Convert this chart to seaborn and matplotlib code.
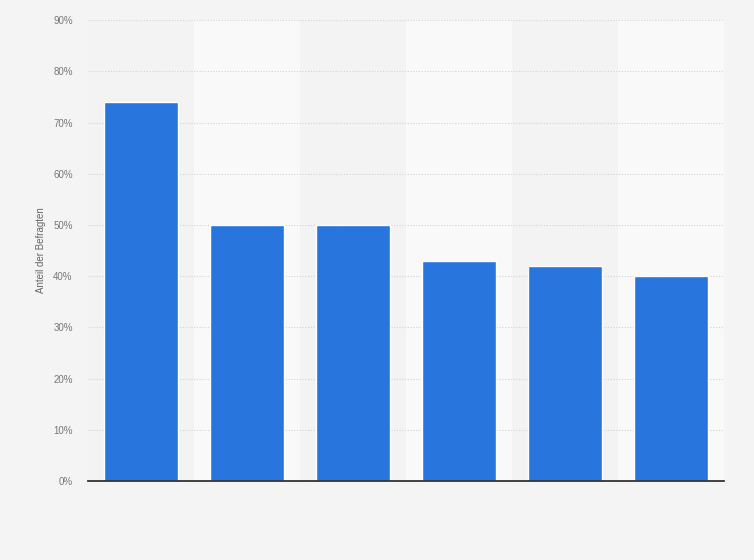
import matplotlib
matplotlib.use("Agg")
import matplotlib.pyplot as plt
import pandas as pd
import seaborn as sns
from matplotlib.ticker import FuncFormatter, MultipleLocator

# values (no category labels shown in the reference)
categories = ["K1", "K2", "K3", "K4", "K5", "K6"]
shares = [74, 50, 50, 43, 42, 40]

df = pd.DataFrame({"kategorie": categories, "anteil": shares})

sns.set_theme(style="white")
plt.rcParams["font.family"] = ["Liberation Sans", "DejaVu Sans"]

fig = plt.figure(figsize=(7.54, 5.6), dpi=100, facecolor="#f4f4f4")
ax = fig.add_axes([0.1167, 0.141, 0.8435, 0.823])
ax.set_facecolor("#f3f3f3")

# alternating column bands
for i in range(len(categories)):
    if i % 2 == 1:
        ax.axvspan(i - 0.5, i + 0.5, color="#f9f9f9", zorder=0, lw=0)

sns.barplot(data=df, x="kategorie", y="anteil", color="#2876dd",
            width=0.69, saturation=1, ax=ax, zorder=3)

ax.set_xlim(-0.5, len(categories) - 0.5)
ax.set_ylim(0, 90)
ax.yaxis.set_major_locator(MultipleLocator(10))
ax.yaxis.set_major_formatter(FuncFormatter(lambda v, _: f"{v:.0f}%"))
ax.grid(axis="y", color="#d2d2d2", linestyle=(0, (1, 1.5)), linewidth=0.8, zorder=1)
ax.set_axisbelow(True)

ax.set_xticks(range(len(categories)))
ax.set_xticklabels([])
ax.tick_params(axis="x", length=0)
ax.tick_params(axis="y", length=0, labelsize=7, colors="#777777", pad=11)
ax.set_xlabel("")
ax.set_ylabel("Anteil der Befragten", fontsize=7, color="#666666", labelpad=5)

for s in ["top", "right", "left"]:
    ax.spines[s].set_visible(False)
ax.spines["bottom"].set_color("#333333")
ax.spines["bottom"].set_linewidth(1.3)
ax.spines["bottom"].set_zorder(5)

fig.savefig("out.png", dpi=100, facecolor=fig.get_facecolor())
